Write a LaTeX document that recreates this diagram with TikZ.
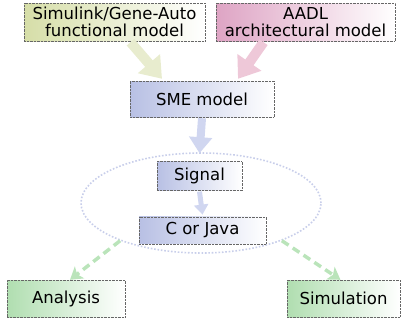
\documentclass[tikz,border=0pt]{standalone}
\usepackage{fontspec}
\setmainfont{DejaVu Sans}
\usetikzlibrary{positioning}
\usetikzlibrary{arrows.meta}
\usetikzlibrary{shapes.geometric}
\definecolor{olivefill}{RGB}{214,222,168}
\definecolor{pinkfill}{RGB}{222,164,196}
\definecolor{bluefill}{RGB}{184,192,228}
\definecolor{greenfill}{RGB}{176,222,176}
\definecolor{olivearr}{RGB}{232,236,206}
\definecolor{pinkarr}{RGB}{238,200,216}
\definecolor{bluearr}{RGB}{208,214,240}
\definecolor{greenarr}{RGB}{186,228,186}
\definecolor{ringcol}{RGB}{200,206,234}
\tikzset{node distance=2cm,
    box/.style={
        draw=black!60,
        densely dotted,
        thin,
        shading=axis,
        right color=white,
        shading angle=90,
        align=center,
        inner sep=0pt,
        font=\fontsize{16.5}{17.5}\selectfont},
    fat/.style={
        -{Triangle[width=#1*2.8, length=#1*2]},
        line width=#1},
    fat/.default=10pt}

\begin{document}
\begin{tikzpicture}[x=1pt,y=-1pt]
        \useasboundingbox (0,0) rectangle (405,325);
        \node[ellipse,draw=ringcol,line width=1.6pt,dash pattern=on 1.6pt off 1.8pt,
              minimum width=240pt,minimum height=100pt,inner sep=0pt] (gen) at (201,203) {};

        \node[box,left color=olivefill,minimum width=181pt,minimum height=38pt] (simulink) at (114.5,22) {Simulink/Gene-Auto\\functional model};
        \node[box,left color=pinkfill,minimum width=179pt,minimum height=38pt] (aadl) at (305.5,22) {AADL\\architectural model};
        \node[box,left color=bluefill,minimum width=144pt,minimum height=36pt] (sme) at (202,99) {SME model};
        \node[box,left color=bluefill,minimum width=85pt,minimum height=29pt,below=44pt of sme,xshift=-2.5pt] (signal) {Signal};
        \node[box,left color=bluefill,minimum width=127pt,minimum height=27pt,below=26pt of signal,xshift=3pt] (code) {C or Java};
        \node[box,left color=greenfill,minimum width=118pt,minimum height=37pt] (analysis) at (66,298.5) {Analysis};
        \node[box,left color=greenfill,minimum width=113pt,minimum height=37pt] (simulation) at (343.5,298.5) {Simulation};

        \draw[fat,olivearr] ([xshift=16pt,yshift=-1pt]simulink.south) -- ([xshift=-40pt,yshift=2pt]sme.north);
        \draw[fat,pinkarr] ([xshift=-42pt,yshift=-1pt]aadl.south) -- ([xshift=36pt,yshift=2pt]sme.north);
        \draw[fat=8pt,bluearr] ([yshift=-1pt]sme.south) -- ([yshift=8pt]signal.north);
        \draw[fat=5pt,bluearr] ([yshift=-1pt]signal.south) -- ([yshift=2pt]code.north);
        \draw[greenarr,line width=3.5pt,dash pattern=on 8pt off 5pt,
              -{Stealth[width=15pt,length=12pt,inset=3pt]}] (gen.-155) -- ([xshift=4pt]analysis.north);
        \draw[greenarr,line width=3.5pt,dash pattern=on 8pt off 5pt,
              -{Stealth[width=15pt,length=12pt,inset=3pt]}] (gen.-25) -- ([xshift=-3pt]simulation.north);
    \end{tikzpicture}
\end{document}
